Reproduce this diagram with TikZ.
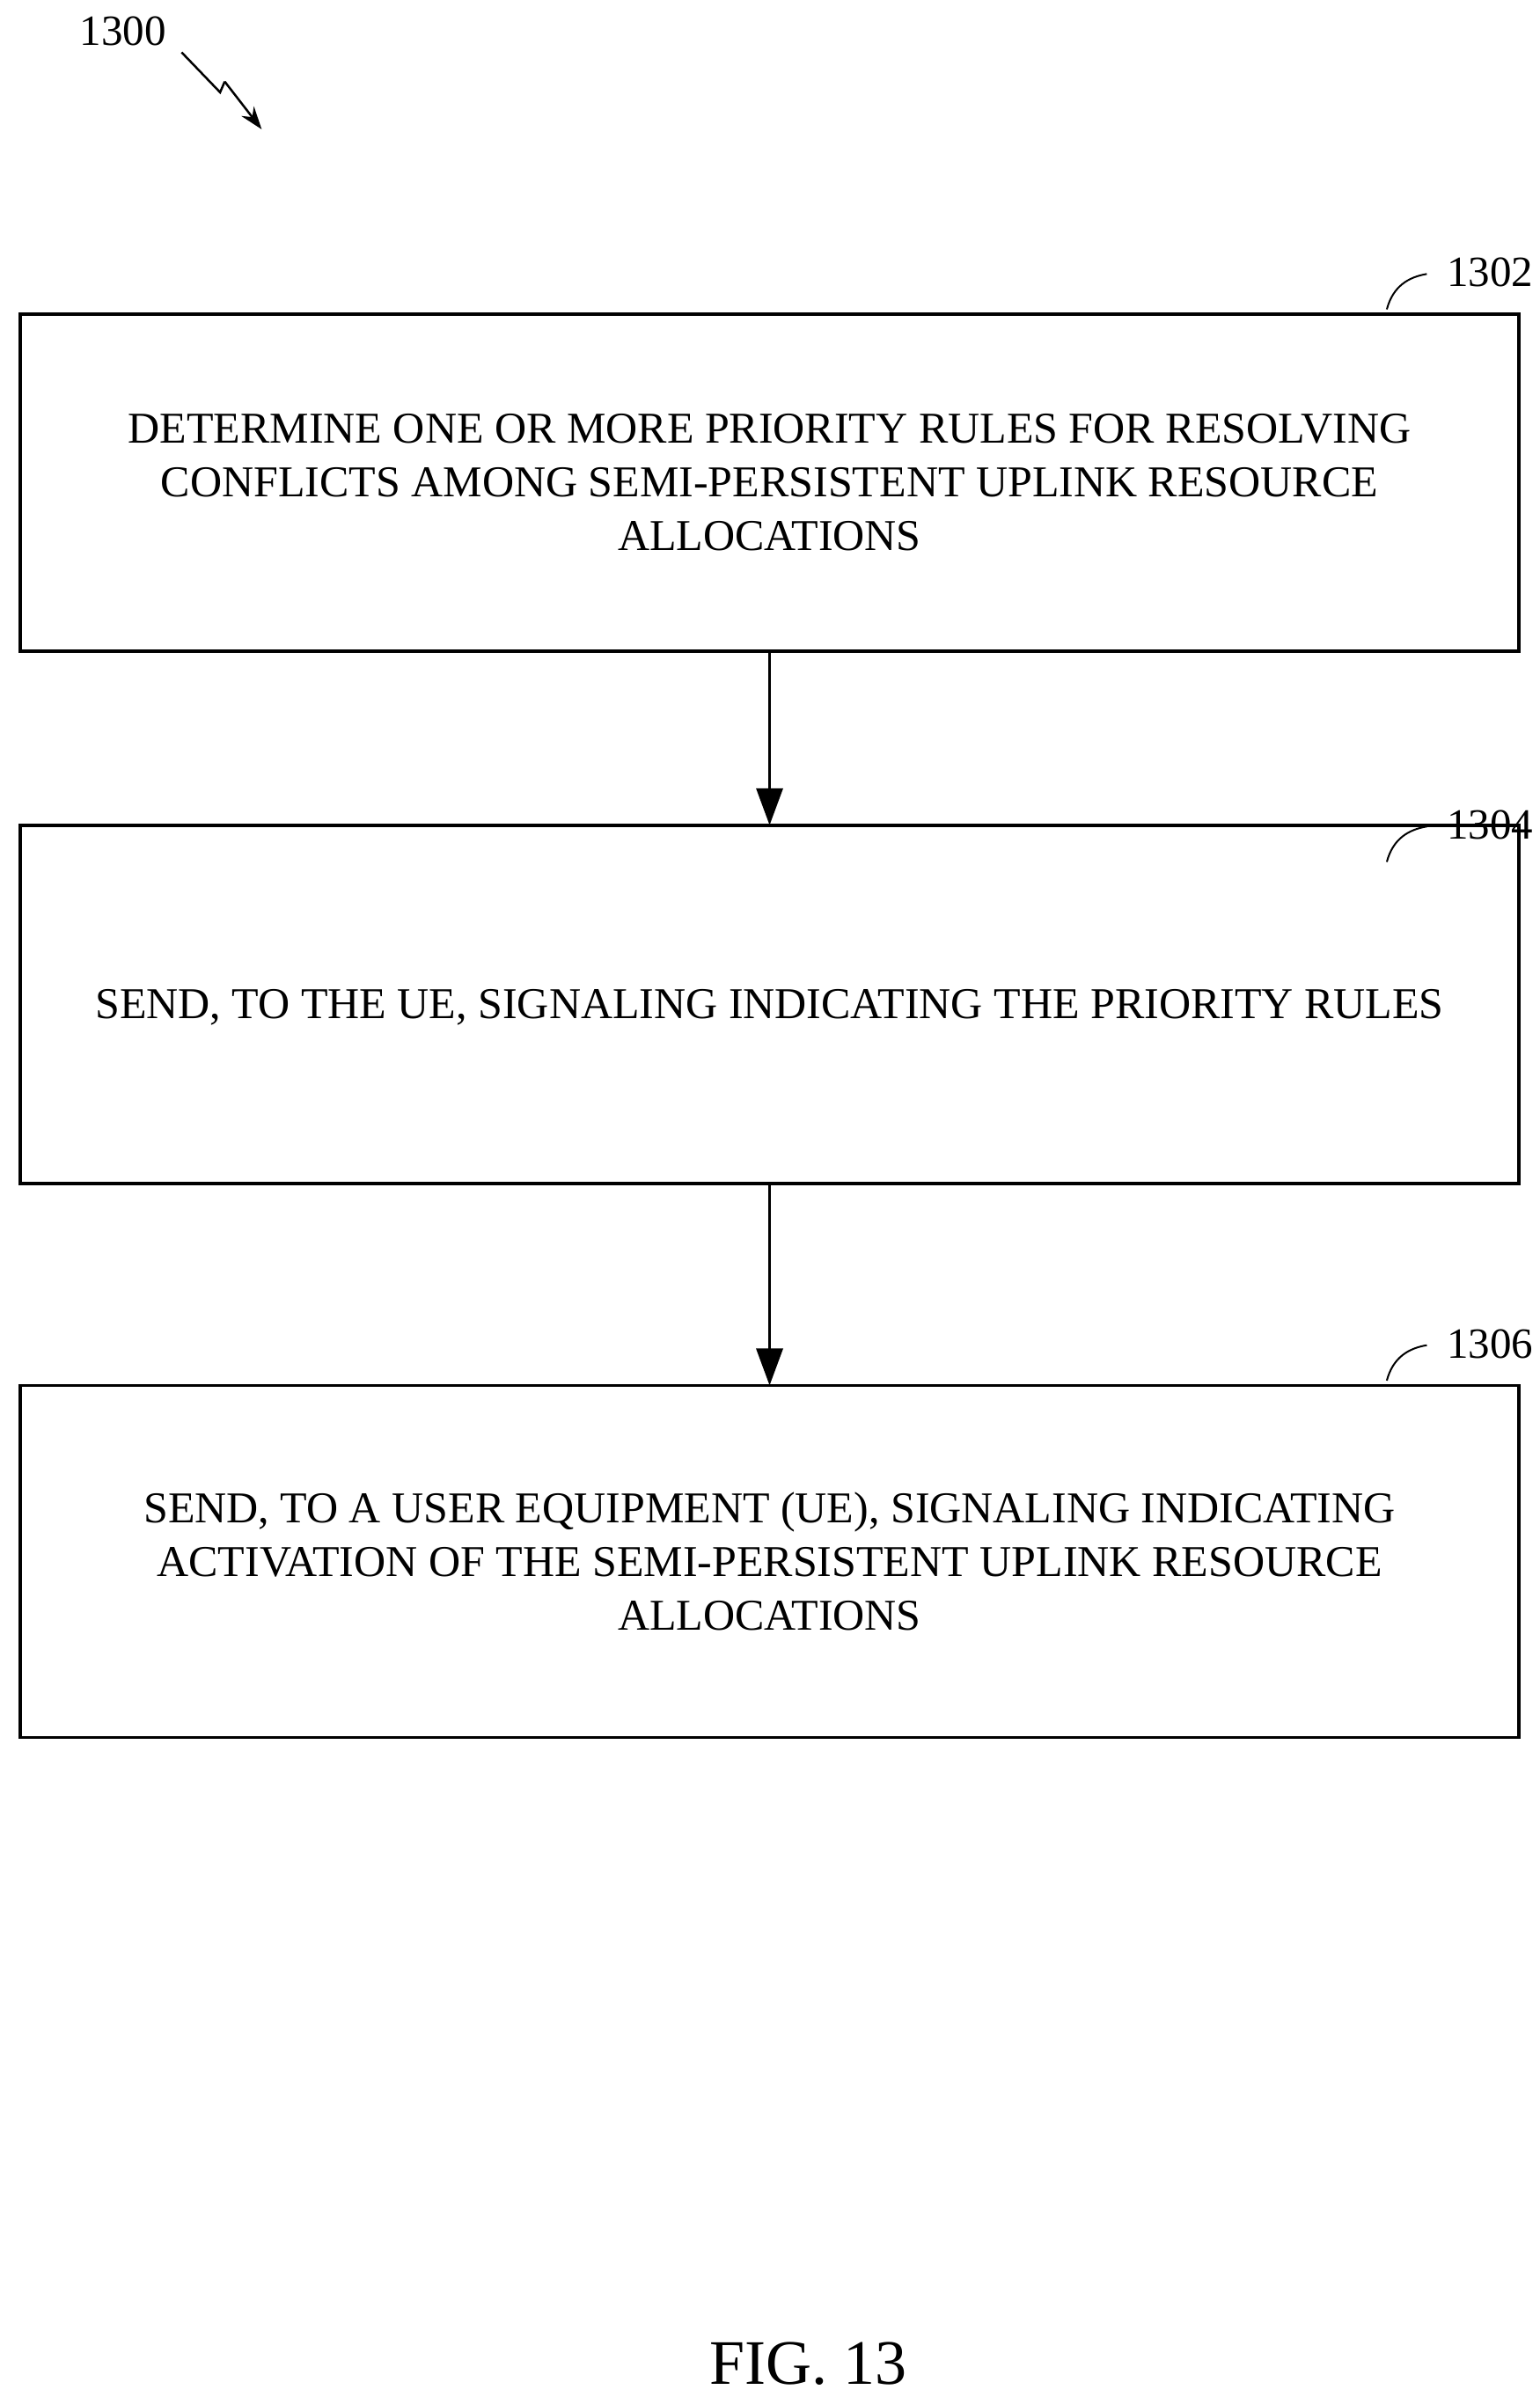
\documentclass[tikz,border=0pt]{standalone}
\usepackage{fontspec}
\setmainfont{Liberation Serif}
\usetikzlibrary{arrows.meta}
\begin{document}
\begin{tikzpicture}[x=1.749pt,y=-1.749pt,
  box/.style={draw,line width=3.5pt,outer sep=0pt,minimum width=1703pt,align=center,font=\fontsize{50}{61}\selectfont},
  lbl/.style={font=\fontsize{49}{55}\selectfont},
  arr/.style={line width=3.5pt,-{Triangle[length=42pt,width=30pt]}}]
\useasboundingbox (0,0) rectangle (1000,1557.4);
\node[box,minimum height=383pt] (b1) at (500,313.5) {DETERMINE ONE OR MORE PRIORITY RULES FOR RESOLVING\\CONFLICTS AMONG SEMI-PERSISTENT UPLINK RESOURCE\\ALLOCATIONS};
\node[box,minimum height=407pt,text depth=-26pt] (b2) at (500,652.5) {SEND, TO THE UE, SIGNALING INDICATING THE PRIORITY RULES};
\node[box,minimum height=400pt] (b3) at (500,1014.5) {SEND, TO A USER EQUIPMENT (UE), SIGNALING INDICATING\\ACTIVATION OF THE SEMI-PERSISTENT UPLINK RESOURCE\\ALLOCATIONS};
\draw[arr] (b1) -- (b2);
\draw[arr] (b2) -- (b3);
\node[lbl] (l1) at (968,177) {1302};
\node[lbl] (l2) at (968,536) {1304};
\node[lbl] (l3) at (968,873) {1306};
\draw[line width=2pt] (901,201) .. controls (905,186) and (915,180) .. (927,178);
\draw[line width=2pt] (901,560) .. controls (905,545) and (915,539) .. (927,537);
\draw[line width=2pt] (901,897) .. controls (905,882) and (915,876) .. (927,874);
\node[lbl] (l0) at (80,20) {1300};
\coordinate (z0) at (118,34);
\coordinate (z1) at (143,60);
\coordinate (z2) at (146,53);
\coordinate (z3) at (170,84);
\draw[line width=2.5pt] (z0) -- (z1) -- (z2);
\draw[line width=2.5pt,-{Stealth[length=26pt,width=18pt]}] (z2) -- (z3);
\node[font=\fontsize{72}{80}\selectfont] (fig) at (525,1536) {FIG. 13};
\end{tikzpicture}
\end{document}
